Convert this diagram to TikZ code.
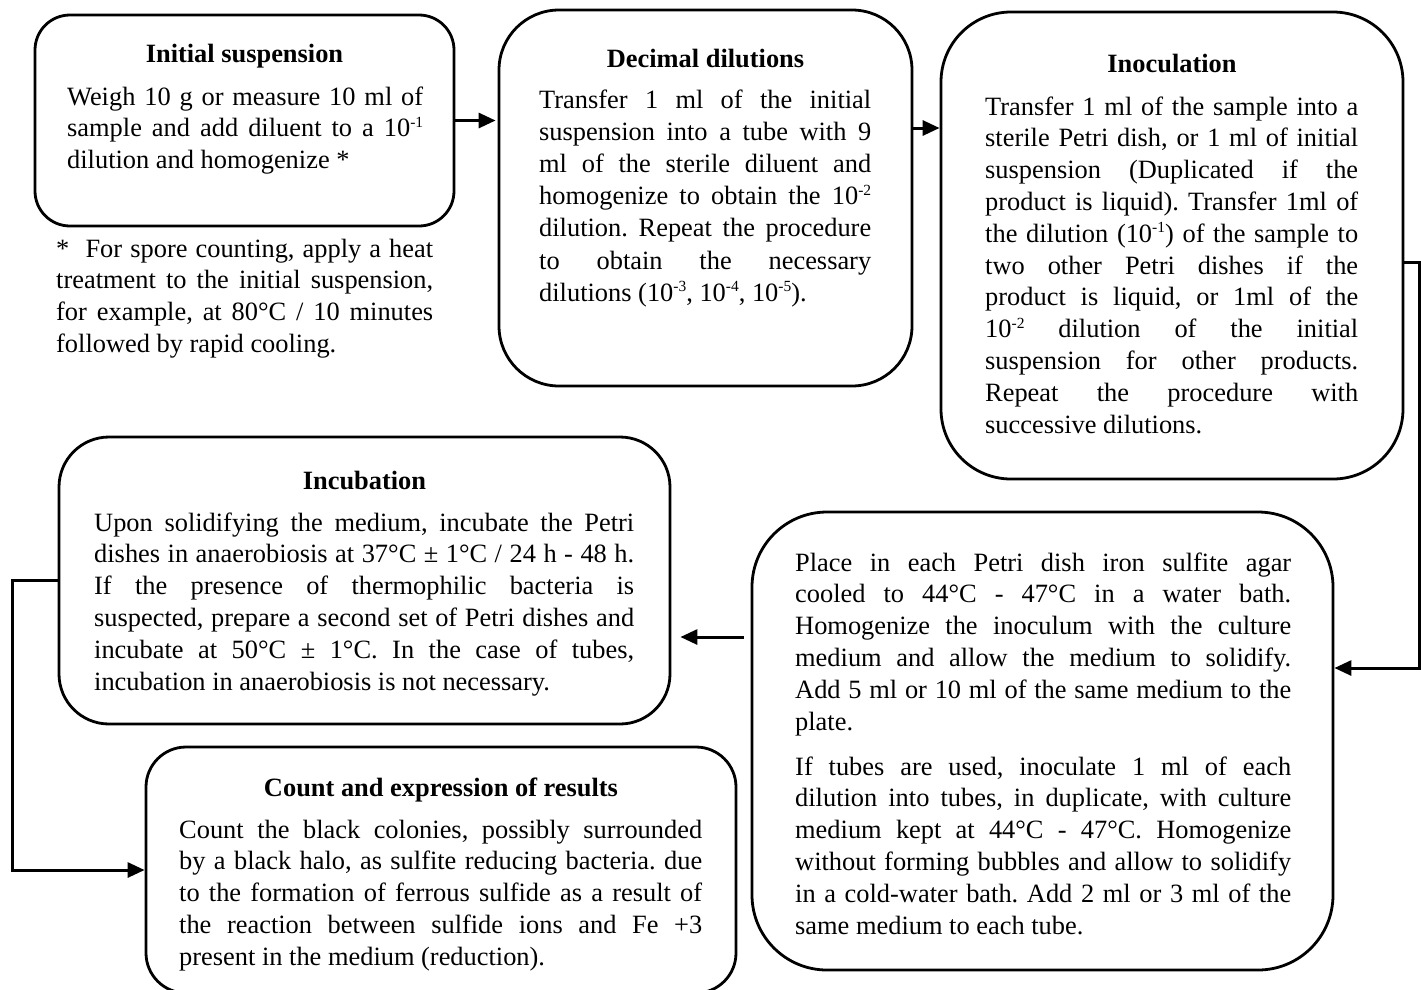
\documentclass[tikz,border=0pt]{standalone}
\usepackage{fontspec}
\setmainfont{Liberation Serif}
\usetikzlibrary{arrows.meta}
\hyphenpenalty=10000
\exhyphenpenalty=10000
\tolerance=9999
\hbadness=10000
\hfuzz=20pt
\frenchspacing
\newcommand\bodyfont{\fontsize{26.4pt}{31.8pt}\selectfont}
\newcommand\sps[1]{\raisebox{0.36em}{\fontsize{15.5pt}{15.5pt}\selectfont #1}}
\tikzset{
  box/.style={draw, line width=2.8pt, inner sep=0pt},
  body/.style={anchor=base west, inner sep=0pt, align=justify, font=\bodyfont},
  ttl/.style={anchor=base, inner sep=0pt, font=\bodyfont\bfseries},
  arr/.style={line width=3pt, -{Triangle[length=17pt,width=15pt]}}
}
\begin{document}
\begin{tikzpicture}[x=1pt,y=-1pt]
\useasboundingbox (0,0) rectangle (1421,989);
% boxes
\node[box, minimum width=419pt, minimum height=211pt, rounded corners=35pt] (b1) at (244.5,120.5) {};
\node[box, minimum width=413pt, minimum height=376pt, rounded corners=60pt] (b2) at (705.5,198) {};
\node[box, minimum width=462pt, minimum height=467pt, rounded corners=70pt] (b3) at (1172,245.5) {};
\node[box, minimum width=611pt, minimum height=287pt, rounded corners=50pt] (b4) at (364.5,580.5) {};
\node[box, minimum width=581pt, minimum height=458pt, rounded corners=75pt] (b5) at (1042.5,741) {};
\node[box, minimum width=590pt, minimum height=246pt, rounded corners=40pt] (b6) at (441,870) {};
% titles
\node[ttl] (h1) at (244.5,62) {Initial suspension};
\node[ttl] (h2) at (705.5,67) {Decimal dilutions};
\node[ttl] (h3) at (1172,72) {Inoculation};
\node[ttl] (h4) at (364.5,489) {Incubation};
\node[ttl] (h6) at (441,796) {Count and expression of results};
% bodies
\node[body, text width=356pt] (t1) at (67,105) {Weigh 10 g or measure 10 ml of\linebreak
sample and add diluent to a 10\sps{-1}\linebreak
dilution and homogenize *};
\node[body, text width=377pt] (fn) at (56,257) {* \ For spore counting, apply a heat\linebreak
treatment to the initial suspension,\linebreak
for example, at 80°C / 10 minutes\linebreak
followed by rapid cooling.};
\node[body, text width=332pt, font=\fontsize{26.4pt}{32.2pt}\selectfont] (t2) at (539,108) {Transfer 1 ml of the initial\linebreak
suspension into a tube with 9\linebreak
ml of the sterile diluent and\linebreak
homogenize to obtain the 10\sps{-2}\linebreak
dilution. Repeat the procedure\linebreak
to obtain the necessary\linebreak
dilutions (10\sps{-3}, 10\sps{-4}, 10\sps{-5}).};
\node[body, text width=373pt] (t3) at (985,115) {Transfer 1 ml of the sample into a\linebreak
sterile Petri dish, or 1 ml of initial\linebreak
suspension (Duplicated if the\linebreak
product is liquid). Transfer 1ml of\linebreak
the dilution (10\sps{-1}) of the sample to\linebreak
two other Petri dishes if the\linebreak
product is liquid, or 1ml of the\linebreak
10\sps{-2} dilution of the initial\linebreak
suspension for other products.\linebreak
Repeat the procedure with\linebreak
successive dilutions.};
\node[body, text width=540pt] (t4) at (94,531) {Upon solidifying the medium, incubate the Petri\linebreak
dishes in anaerobiosis at 37°C ± 1°C / 24 h - 48 h.\linebreak
If the presence of thermophilic bacteria is\linebreak
suspected, prepare a second set of Petri dishes and\linebreak
incubate at 50°C ± 1°C. In the case of tubes,\linebreak
incubation in anaerobiosis is not necessary.};
\node[body, text width=496pt] (t5) at (795,571) {\setlength{\parskip}{13.2pt}Place in each Petri dish iron sulfite agar\linebreak
cooled to 44°C - 47°C in a water bath.\linebreak
Homogenize the inoculum with the culture\linebreak
medium and allow the medium to solidify.\linebreak
Add 5 ml or 10 ml of the same medium to the\linebreak
plate.\par
If tubes are used, inoculate 1 ml of each\linebreak
dilution into tubes, in duplicate, with culture\linebreak
medium kept at 44°C - 47°C. Homogenize\linebreak
without forming bubbles and allow to solidify\linebreak
in a cold-water bath. Add 2 ml or 3 ml of the\linebreak
same medium to each tube.};
\node[body, text width=523pt] (t6) at (179,838) {Count the black colonies, possibly surrounded\linebreak
by a black halo, as sulfite reducing bacteria. due\linebreak
to the formation of ferrous sulfide as a result of\linebreak
the reaction between sulfide ions and Fe +3\linebreak
present in the medium (reduction).};
% helper coordinates
\coordinate (a2) at (0,128);
\coordinate (a3) at (0,262);
\coordinate (a4) at (0,637);
\coordinate (a5) at (0,668);
\coordinate (r1) at (1419,262);
\coordinate (r2) at (1419,668);
\coordinate (l0) at (12,0);
% connectors
\draw[arr, shorten >=2pt] (b1.east) -- (b2.west |- b1.east);
\draw[arr] (b2.east |- a2) -- (b3.west |- a2);
\draw[arr] (b3.east |- a3) -- (r1) -- (r2) -- (b5.east |- a5);
\draw[arr, shorten <=7pt, shorten >=9pt] (b5.west |- a4) -- (b4.east |- a4);
\draw[arr] (b4.west) -- (b4.west -| l0) -- (b6.west -| l0) -- (b6.west);
\end{tikzpicture}
\end{document}
